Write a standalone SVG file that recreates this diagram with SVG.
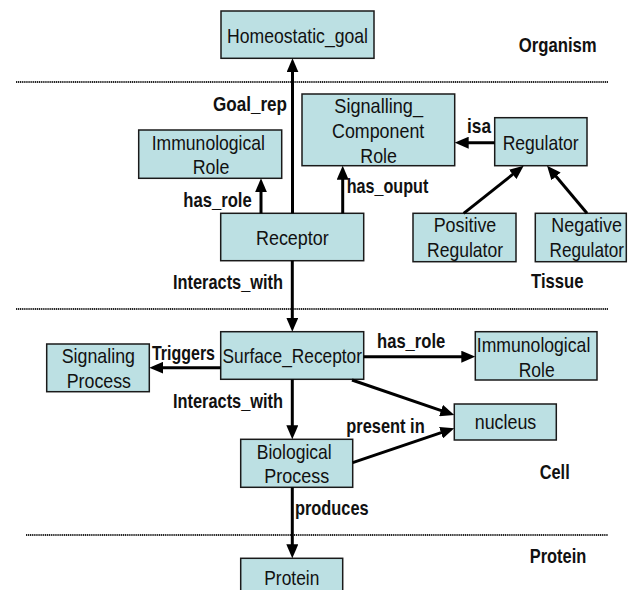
<svg xmlns="http://www.w3.org/2000/svg" width="637" height="590" viewBox="0 0 637 590">
  <style>
    .node rect { fill: #bce0e3; stroke: #1a1a1a; stroke-width: 1.5; }
    text { font-family: "Liberation Sans", Arial, sans-serif; font-size: 21px; fill: #111; }
    .lbl { font-weight: bold; font-size: 20.5px; }
    .edge { stroke: #000; stroke-width: 3; fill: none; marker-end: url(#head); }
    .layer { stroke: #222; stroke-width: 2; stroke-dasharray: 1.2 0.7; }
  </style>
  <defs>
    <marker id="head" markerUnits="userSpaceOnUse" markerWidth="14" markerHeight="12" refX="8" refY="6" orient="auto">
      <path d="M0,0 L14,6 L0,12 z" fill="#000"/>
    </marker>
  </defs>
  <rect width="637" height="590" fill="#fff"/>

  <!-- layer separators and layer names -->
  <g id="layers">
    <line class="layer" x1="16" y1="82" x2="608" y2="82"/>
    <line class="layer" x1="16" y1="309" x2="608" y2="309"/>
    <line class="layer" x1="26" y1="535" x2="608" y2="535"/>
    <text class="lbl" x="518.7" y="51.7" textLength="78" lengthAdjust="spacingAndGlyphs">Organism</text>
    <text class="lbl" x="531" y="288.3" textLength="52.5" lengthAdjust="spacingAndGlyphs">Tissue</text>
    <text class="lbl" x="539.7" y="479.3" textLength="30" lengthAdjust="spacingAndGlyphs">Cell</text>
    <text class="lbl" x="529.7" y="562.7" textLength="56.6" lengthAdjust="spacingAndGlyphs">Protein</text>
  </g>

  <!-- nodes -->
  <g id="homeostatic_goal" class="node">
    <rect x="221" y="11" width="153" height="47.3"/>
    <text x="227" y="43.3" textLength="141" lengthAdjust="spacingAndGlyphs">Homeostatic_goal</text>
  </g>
  <g id="immunological_role_tissue" class="node">
    <rect x="138.7" y="130" width="143" height="48.3"/>
    <text x="151.7" y="150" textLength="113.3" lengthAdjust="spacingAndGlyphs">Immunological</text>
    <text x="192.7" y="174" textLength="36.6" lengthAdjust="spacingAndGlyphs">Role</text>
  </g>
  <g id="signalling_component_role" class="node">
    <rect x="302" y="94" width="152.7" height="71.7"/>
    <text x="334.3" y="113" textLength="88.7" lengthAdjust="spacingAndGlyphs">Signalling_</text>
    <text x="332" y="138" textLength="92.3" lengthAdjust="spacingAndGlyphs">Component</text>
    <text x="360.3" y="163" textLength="36.7" lengthAdjust="spacingAndGlyphs">Role</text>
  </g>
  <g id="regulator" class="node">
    <rect x="494.7" y="117.7" width="92.3" height="48"/>
    <text x="502.7" y="150" textLength="76" lengthAdjust="spacingAndGlyphs">Regulator</text>
  </g>
  <g id="receptor" class="node">
    <rect x="220.7" y="213.3" width="143" height="47.4"/>
    <text x="256" y="245" textLength="72.7" lengthAdjust="spacingAndGlyphs">Receptor</text>
  </g>
  <g id="positive_regulator" class="node">
    <rect x="413" y="213.3" width="103" height="48.4"/>
    <text x="433.7" y="232.3" textLength="62.6" lengthAdjust="spacingAndGlyphs">Positive</text>
    <text x="427" y="257.3" textLength="76" lengthAdjust="spacingAndGlyphs">Regulator</text>
  </g>
  <g id="negative_regulator" class="node">
    <rect x="535.3" y="213.3" width="91" height="48.4"/>
    <text x="551.3" y="232.3" textLength="70.7" lengthAdjust="spacingAndGlyphs">Negative</text>
    <text x="549.5" y="257.3" textLength="74.5" lengthAdjust="spacingAndGlyphs">Regulator</text>
  </g>
  <g id="surface_receptor" class="node">
    <rect x="220.7" y="331.7" width="143" height="47.6"/>
    <text x="222.5" y="363.3" textLength="139.5" lengthAdjust="spacingAndGlyphs">Surface_Receptor</text>
  </g>
  <g id="signaling_process" class="node">
    <rect x="46.7" y="344" width="102.6" height="47.7"/>
    <text x="61.7" y="363.3" textLength="73.3" lengthAdjust="spacingAndGlyphs">Signaling</text>
    <text x="66.7" y="388.3" textLength="64.3" lengthAdjust="spacingAndGlyphs">Process</text>
  </g>
  <g id="immunological_role_cell" class="node">
    <rect x="475.3" y="331.7" width="121.7" height="48.3"/>
    <text x="476.8" y="351.7" textLength="113.5" lengthAdjust="spacingAndGlyphs">Immunological</text>
    <text x="518.7" y="376.7" textLength="36" lengthAdjust="spacingAndGlyphs">Role</text>
  </g>
  <g id="nucleus" class="node">
    <rect x="454.3" y="404" width="102" height="36"/>
    <text x="474.7" y="429.3" textLength="61.6" lengthAdjust="spacingAndGlyphs">nucleus</text>
  </g>
  <g id="biological_process" class="node">
    <rect x="240.7" y="439.3" width="112" height="48"/>
    <text x="256.7" y="459.3" textLength="75" lengthAdjust="spacingAndGlyphs">Biological</text>
    <text x="264.3" y="483.3" textLength="65" lengthAdjust="spacingAndGlyphs">Process</text>
  </g>
  <g id="protein" class="node">
    <rect x="240.7" y="558.3" width="102" height="45"/>
    <text x="264.3" y="585" textLength="55" lengthAdjust="spacingAndGlyphs">Protein</text>
  </g>

  <!-- connectors and their labels -->
  <g id="connectors">
    <line class="edge" x1="292.5" y1="213.3" x2="292.5" y2="64.3"/>
    <line class="edge" x1="261" y1="213.3" x2="261" y2="184.3"/>
    <line class="edge" x1="342.7" y1="213.3" x2="342.7" y2="171.7"/>
    <line class="edge" x1="494.7" y1="142.7" x2="460.7" y2="142.7"/>
    <line class="edge" x1="463.7" y1="213.3" x2="519" y2="169.4"/>
    <line class="edge" x1="587" y1="213.3" x2="550.9" y2="170.3"/>
    <line class="edge" x1="292.3" y1="260.7" x2="292.3" y2="325.7"/>
    <line class="edge" x1="220.7" y1="367.7" x2="155.3" y2="367.7"/>
    <line class="edge" x1="363.7" y1="356.7" x2="469.3" y2="356.7"/>
    <line class="edge" x1="352" y1="380" x2="448.6" y2="413.1"/>
    <line class="edge" x1="352.7" y1="462.7" x2="448.6" y2="430.2"/>
    <line class="edge" x1="292.3" y1="379.3" x2="292.3" y2="433.3"/>
    <line class="edge" x1="292.3" y1="487.3" x2="292.3" y2="552.3"/>

    <text class="lbl" x="213" y="111" textLength="74" lengthAdjust="spacingAndGlyphs">Goal_rep</text>
    <text class="lbl" x="183.3" y="206.5" textLength="68.4" lengthAdjust="spacingAndGlyphs">has_role</text>
    <text class="lbl" x="346.7" y="193.3" textLength="81.6" lengthAdjust="spacingAndGlyphs">has_ouput</text>
    <text class="lbl" x="467" y="133" textLength="24" lengthAdjust="spacingAndGlyphs">isa</text>
    <text class="lbl" x="173" y="289.3" textLength="110" lengthAdjust="spacingAndGlyphs">Interacts_with</text>
    <text class="lbl" x="152" y="360" textLength="63" lengthAdjust="spacingAndGlyphs">Triggers</text>
    <text class="lbl" x="377" y="348.3" textLength="68.3" lengthAdjust="spacingAndGlyphs">has_role</text>
    <text class="lbl" x="173" y="408.3" textLength="110" lengthAdjust="spacingAndGlyphs">Interacts_with</text>
    <text class="lbl" x="346.3" y="432.7" textLength="78.4" lengthAdjust="spacingAndGlyphs">present in</text>
    <text class="lbl" x="295" y="515" textLength="73.7" lengthAdjust="spacingAndGlyphs">produces</text>
  </g>
</svg>
